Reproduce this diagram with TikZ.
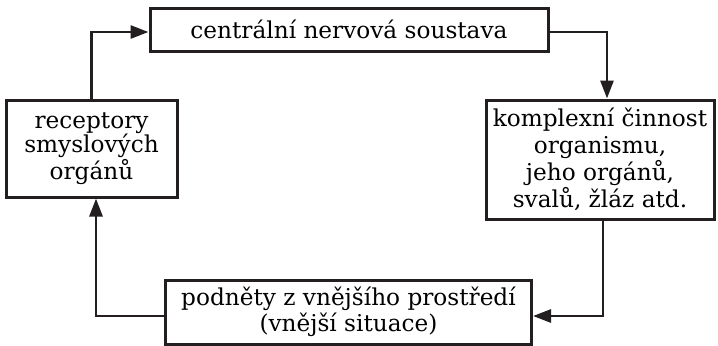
\documentclass[tikz,border=0pt]{standalone}
\usepackage{fontspec}
\setmainfont{DejaVu Serif}
\usepackage{xcolor}
\usepackage{tikz}
\usetikzlibrary{arrows.meta, positioning, calc}
\definecolor{BoxLine}{RGB}{35, 31, 32}

\tikzset{
  stagebox/.style={draw=BoxLine, line width=1.5pt, align=center, inner sep=0pt,
    font=\fontsize{11.6}{12}\selectfont},
  link/.style={draw=BoxLine, line width=1.4pt, -{Triangle[length=9pt, width=6.5pt]}}
}

\begin{document}
\begin{tikzpicture}[x=0.5pt, y=-0.5pt]
  \useasboundingbox (0,0) rectangle (718,345);
  % the four stages of the loop
  \node[stagebox, minimum width=199pt, minimum height=21.5pt] (cns) at (349,29.5)
    {centrální nervová soustava};
  \node[stagebox, minimum width=85.5pt, minimum height=48.5pt] (rec) at (91.5,148.5)
    {receptory\\smyslových\\orgánů};
  \node[stagebox, minimum width=114pt, minimum height=59.5pt,
    font=\fontsize{11.6}{13.5}\selectfont] (kom) at (600,159.5)
    {komplexní činnost\\organismu,\\jeho orgánů,\\svalů, žláz atd.};
  \node[stagebox, minimum width=183pt, minimum height=32pt,
    font=\fontsize{11.6}{10}\selectfont] (pod) at (348.5,312)
    {podněty z vnějšího prostředí\\(vnější situace)};
  % connectors
  \draw[link] (rec.north) |- ([yshift=-1.25pt]cns.west);
  \draw[link] ([yshift=-1.25pt]cns.east) -| ([xshift=3.5pt]kom.north);
  \draw[link] ([xshift=1.5pt]kom.south) |- ([yshift=-2pt]pod.east);
  \draw[link] ([yshift=-2pt]pod.west) -| ([xshift=2.25pt]rec.south);
\end{tikzpicture}
\end{document}
